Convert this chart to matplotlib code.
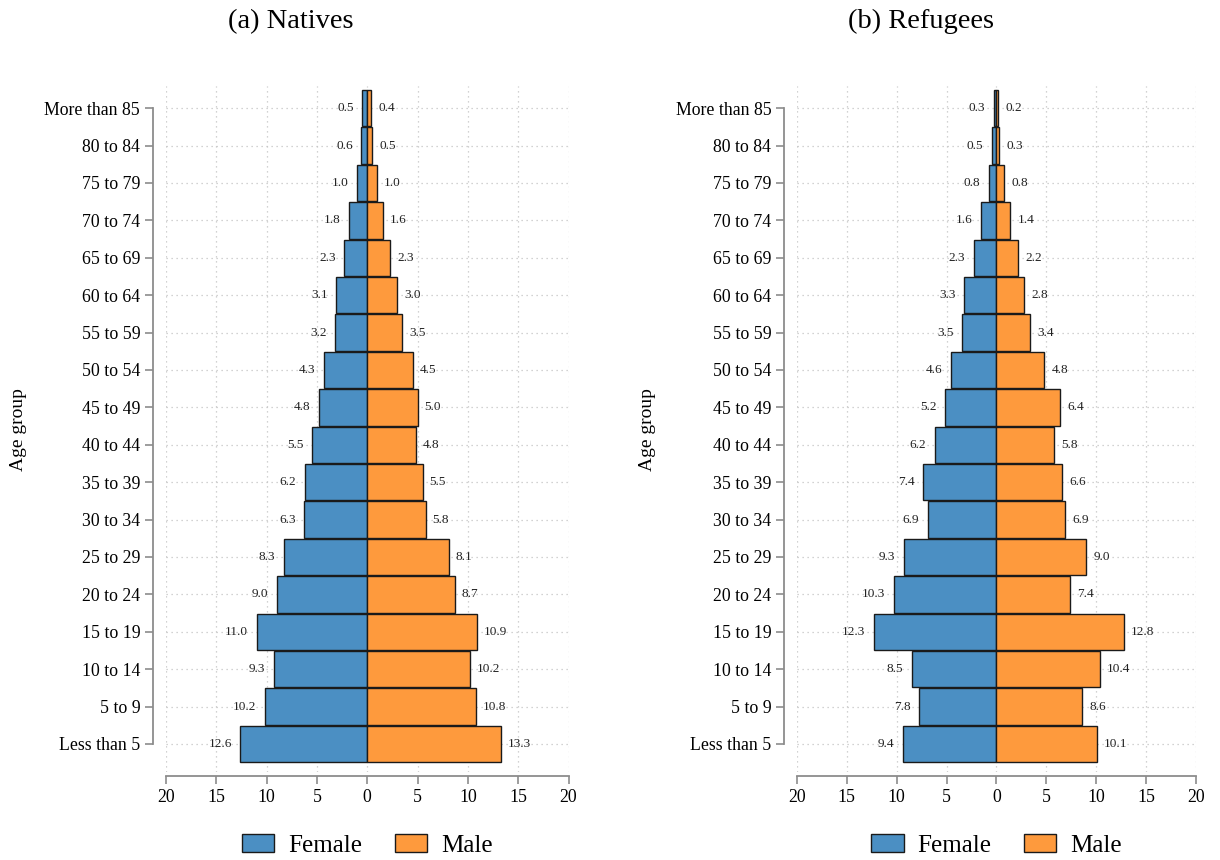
import numpy as np
import matplotlib
matplotlib.use("Agg")
import matplotlib.pyplot as plt
from matplotlib.patches import Patch

plt.rcParams['font.family'] = ['Liberation Serif', 'DejaVu Serif']

# Datos (de abajo hacia arriba)
grupos = ["Less than 5", "5 to 9", "10 to 14", "15 to 19", "20 to 24", "25 to 29",
          "30 to 34", "35 to 39", "40 to 44", "45 to 49", "50 to 54", "55 to 59",
          "60 to 64", "65 to 69", "70 to 74", "75 to 79", "80 to 84", "More than 85"]

nat_mujer = [12.6, 10.2, 9.3, 11.0, 9.0, 8.3, 6.3, 6.2, 5.5, 4.8, 4.3, 3.2, 3.1, 2.3, 1.8, 1.0, 0.6, 0.5]
nat_hombre = [13.3, 10.8, 10.2, 10.9, 8.7, 8.1, 5.8, 5.5, 4.8, 5.0, 4.5, 3.5, 3.0, 2.3, 1.6, 1.0, 0.5, 0.4]
ref_mujer = [9.4, 7.8, 8.5, 12.3, 10.3, 9.3, 6.9, 7.4, 6.2, 5.2, 4.6, 3.5, 3.3, 2.3, 1.6, 0.8, 0.5, 0.3]
ref_hombre = [10.1, 8.6, 10.4, 12.8, 7.4, 9.0, 6.9, 6.6, 5.8, 6.4, 4.8, 3.4, 2.8, 2.2, 1.4, 0.8, 0.3, 0.2]

titulos = ["(a) Natives", "(b) Refugees"]
xticks = [-20, -15, -10, -5, 0, 5, 10, 15, 20]
xtick_labels = ["20", "15", "10", "5", "0", "5", "10", "15", "20"]

azul = '#4b8fc3'
naranja = '#fe9a3d'
gris = '#8c8c8c'

fig = plt.figure(figsize=(12.2, 8.6), dpi=100)
posiciones = [[0.136, 0.1023, 0.330, 0.798], [0.6533, 0.1023, 0.327, 0.798]]
centros_titulo = [0.238, 0.755]
x_etiqueta = [0.015, 0.531]

y = np.arange(len(grupos))

for k, (mujer, hombre) in enumerate([(nat_mujer, nat_hombre), (ref_mujer, ref_hombre)]):
    ax = fig.add_axes(posiciones[k])
    mujer = np.array(mujer)
    hombre = np.array(hombre)

    # grilla punteada
    for yy in y:
        ax.axhline(yy, color='#c4c4c4', ls=(0, (1, 3)), lw=0.9, zorder=0)
    for xx in xticks:
        ax.axvline(xx, color='#c4c4c4', ls=(0, (1, 3)), lw=0.9, zorder=0)

    ax.barh(y, -mujer, height=0.97, color=azul, edgecolor='#1a1a1a', lw=1.0, zorder=2)
    ax.barh(y, hombre, height=0.97, color=naranja, edgecolor='#1a1a1a', lw=1.0, zorder=2)

    for yy, m, h in zip(y, mujer, hombre):
        ax.annotate(f"{m:.1f}", (-m, yy), xytext=(-6, 0), textcoords='offset points',
                    ha='right', va='center', fontsize=9.5, color='#222222')
        ax.annotate(f"{h:.1f}", (h, yy), xytext=(5, 0), textcoords='offset points',
                    ha='left', va='center', fontsize=9.5, color='#222222')

    ax.set_xlim(-20, 20)
    ax.set_ylim(-0.75, 17.6)
    ax.set_yticks(y)
    ax.set_yticklabels(grupos)
    ax.set_xticks(xticks)
    ax.set_xticklabels(xtick_labels)

    for lado in ['top', 'right']:
        ax.spines[lado].set_visible(False)
    ax.spines['left'].set_position(('outward', 9.5))
    ax.spines['left'].set_bounds(0, 17)
    ax.spines['bottom'].set_position(('outward', 3))
    ax.spines['bottom'].set_bounds(-20, 20)
    for lado in ['left', 'bottom']:
        ax.spines[lado].set_color(gris)
        ax.spines[lado].set_linewidth(1.3)
    ax.tick_params(axis='both', color=gris, length=6, width=1.2, pad=3, labelsize=12.8)

    fig.text(x_etiqueta[k], 0.5, "Age group", rotation=90, ha='center', va='center', fontsize=14)
    fig.text(centros_titulo[k], 0.975, titulos[k], ha='center', va='center', fontsize=20.5)

    handles = [Patch(facecolor=azul, edgecolor='#1a1a1a', label='Female'),
               Patch(facecolor=naranja, edgecolor='#1a1a1a', label='Male')]
    ax.legend(handles=handles, loc='center', bbox_to_anchor=(0.5, -0.107), ncol=2,
              frameon=False, fontsize=18, handlelength=1.3, handleheight=0.75,
              columnspacing=1.3, handletextpad=0.55)

fig.savefig("out.png", dpi=100)
